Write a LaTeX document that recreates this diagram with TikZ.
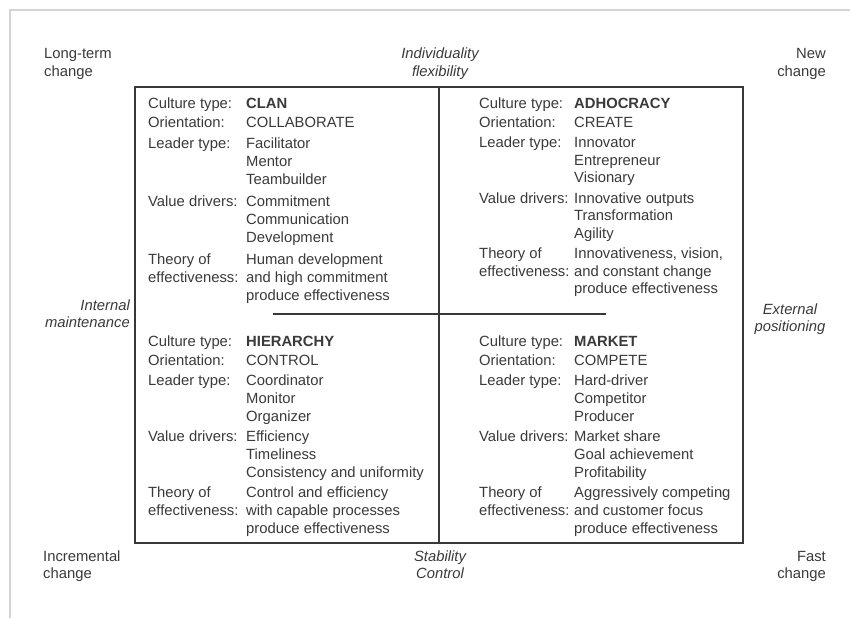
\documentclass[tikz,border=0pt]{standalone}
\usepackage{fontspec}
\setmainfont{Liberation Sans}
\usepackage{array}
\definecolor{ink}{HTML}{3A3A3A}
\definecolor{rulecol}{HTML}{383838}
\definecolor{edgecol}{HTML}{D4D4D4}

% one quadrant: label column of given width, then the values
\newcommand{\quadbody}[2]{\begin{tabular}[t]{@{}p{#1}@{}l@{}}#2\end{tabular}}

\begin{document}
\begin{tikzpicture}[x=1pt,y=-1pt,
  quad/.style={anchor=base west, inner sep=0pt, text=ink,
    font=\fontsize{14.8}{18}\selectfont},
  quadtight/.style={quad, font=\fontsize{14.8}{17.5}\selectfont},
  axislbl/.style={inner sep=0pt, text=ink, font=\fontsize{14.8}{17.5}\selectfont\itshape},
  cornerlbl/.style={inner sep=0pt, text=ink, font=\fontsize{14.8}{17.5}\selectfont},
  gridline/.style={draw=rulecol, line width=1.4pt},
  edgeline/.style={draw=edgecol, line width=2pt}]

\useasboundingbox (0,0) rectangle (850,618);
\fill[white] (0,0) rectangle (850,618);

% page edge
\coordinate (e1) at (850,10);
\coordinate (e2) at (10,10);
\coordinate (e3) at (10,618);
\draw[edgeline] (e1) -- (e2) -- (e3);

% quadrant grid
\coordinate (bl) at (135,543);
\coordinate (tr) at (743,87);
\coordinate (vtop) at (439,87);
\coordinate (vbot) at (439,543);
\coordinate (hl) at (273,314);
\coordinate (hr) at (606,314);
\draw[gridline] (bl) rectangle (tr);
\draw[gridline] (vtop) -- (vbot);
\draw[gridline] (hl) -- (hr);

% quadrants
\node[quad] (clan) at (148,108) {\quadbody{98pt}{%
  Culture type: & \textbf{CLAN}\\[1pt]
  Orientation: & COLLABORATE\\[3pt]
  Leader type: & Facilitator\\
  & Mentor\\
  & Teambuilder\\[4pt]
  Value drivers: & Commitment\\
  & Communication\\
  & Development\\[4pt]
  Theory of & Human development\\
  effectiveness: & and high commitment\\
  & produce effectiveness}};

\node[quadtight] (adhocracy) at (479,108) {\quadbody{95pt}{%
  Culture type: & \textbf{ADHOCRACY}\\[1.5pt]
  Orientation: & CREATE\\[3pt]
  Leader type: & Innovator\\
  & Entrepreneur\\
  & Visionary\\[3pt]
  Value drivers: & Innovative outputs\\
  & Transformation\\
  & Agility\\[3pt]
  Theory of & Innovativeness, vision,\\
  effectiveness: & and constant change\\
  & produce effectiveness}};

\node[quad] (hierarchy) at (148,346) {\quadbody{98pt}{%
  Culture type: & \textbf{HIERARCHY}\\[1pt]
  Orientation: & CONTROL\\[2pt]
  Leader type: & Coordinator\\
  & Monitor\\
  & Organizer\\[2pt]
  Value drivers: & Efficiency\\
  & Timeliness\\
  & Consistency and uniformity\\[2pt]
  Theory of & Control and efficiency\\
  effectiveness: & with capable processes\\
  & produce effectiveness}};

\node[quad] (market) at (479,346) {\quadbody{95pt}{%
  Culture type: & \textbf{MARKET}\\[1pt]
  Orientation: & COMPETE\\[2pt]
  Leader type: & Hard-driver\\
  & Competitor\\
  & Producer\\[2pt]
  Value drivers: & Market share\\
  & Goal achievement\\
  & Profitability\\[2pt]
  Theory of & Aggressively competing\\
  effectiveness: & and customer focus\\
  & produce effectiveness}};

% axis labels
\node[axislbl, anchor=base] (flex) at (440,59)
  {\begin{tabular}[t]{@{}c@{}}Individuality\\ flexibility\end{tabular}};
\node[axislbl, anchor=base] (stab) at (440,561)
  {\begin{tabular}[t]{@{}c@{}}Stability\\ Control\end{tabular}};
\node[axislbl, anchor=base east] (internal) at (130,310)
  {\begin{tabular}[t]{@{}r@{}}Internal\\ maintenance\end{tabular}};
\node[axislbl, anchor=base] (external) at (790,314)
  {\begin{tabular}[t]{@{}c@{}}External\\ positioning\end{tabular}};

% corner labels
\node[cornerlbl, anchor=base west] (longterm) at (44,59)
  {\begin{tabular}[t]{@{}l@{}}Long-term\\ change\end{tabular}};
\node[cornerlbl, anchor=base east] (newchange) at (826,59)
  {\begin{tabular}[t]{@{}r@{}}New\\ change\end{tabular}};
\node[cornerlbl, anchor=base west] (incremental) at (43,561)
  {\begin{tabular}[t]{@{}l@{}}Incremental\\ change\end{tabular}};
\node[cornerlbl, anchor=base east] (fast) at (826,561)
  {\begin{tabular}[t]{@{}r@{}}Fast\\ change\end{tabular}};

\end{tikzpicture}
\end{document}
